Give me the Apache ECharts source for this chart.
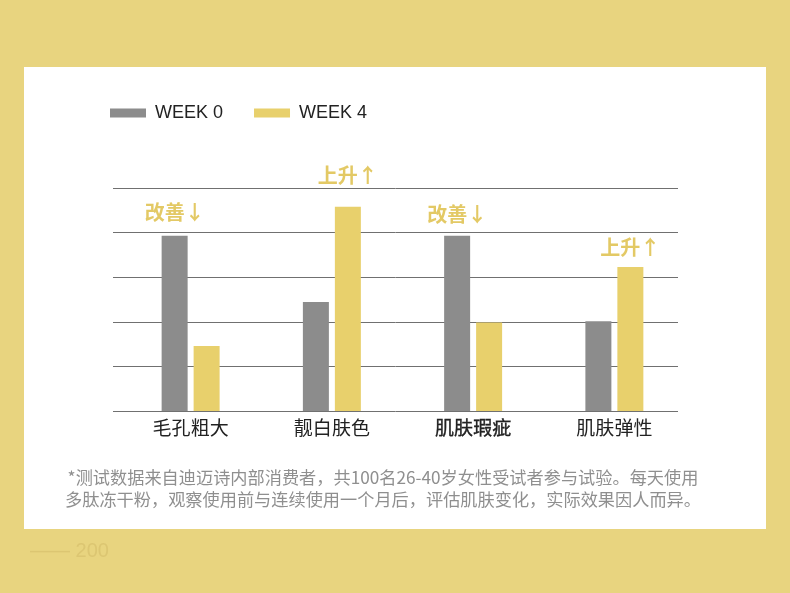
<!DOCTYPE html>
<html>
<head>
<meta charset="utf-8">
<script src="https://cdn.jsdelivr.net/npm/echarts@6/dist/echarts.min.js"></script>
<style>
  html, body { margin: 0; padding: 0; background: #e8d47f; }
  #chart { width: 790px; height: 593px; }
</style>
</head>
<body>
<div id="chart"></div>
<script>
// 四项肌肤指标：WEEK 0 vs WEEK 4
const categories = ["毛孔粗大", "靓白肤色", "肌肤瑕疵", "肌肤弹性"];
const week0 = [78.6, 48.9, 78.6, 40.3];
const week4 = [29.2, 91.6, 39.7, 64.6];
const seriesNames = ["WEEK 0", "WEEK 4"];
const notes = ["改善↓", "上升↑", "改善↓", "上升↑"];
const noteOn = [0, 1, 0, 1];          // 标注挂在哪个系列的柱子上
const yTicks = [0, 20, 40, 60, 80, 100];
const footnote = [
  "*测试数据来自迪迈诗内部消费者，共100名26-40岁女性受试者参与试验。每天使用",
  "多肽冻干粉，观察使用前与连续使用一个月后，评估肌肤变化，实际效果因人而异。"
];

const GRAY = "#8c8c8c", YELLOW = "#e8d06c", NOTE = "#e3c965";
const noteGap = [13, 21, 11, 10];

const chart = echarts.init(document.getElementById("chart"));

const barData = (vals, si) => vals.map((v, i) => {
  if (noteOn[i] !== si) return v;
  return {
    value: v,
    label: {
      show: true, position: "top", distance: noteGap[i], formatter: notes[i],
      color: NOTE, fontSize: 20, fontWeight: "bold", fontFamily: "Noto Sans CJK SC"
    }
  };
});

const yMin = yTicks[0], yMax = yTicks[yTicks.length - 1], yStep = yTicks[1] - yTicks[0];

chart.setOption({
  backgroundColor: "#e8d47f",
  animation: false,
  graphic: [
    { type: "text", left: 30, top: 541, silent: true,
      style: { text: "—— 200", fill: "#dcc672", font: "20px 'Liberation Sans'" } },
    { type: "rect", shape: { x: 24, y: 67, width: 742, height: 462 }, style: { fill: "#ffffff" }, z: -1 },
    { type: "text", silent: true,
      style: { x: 383, y: 466, text: footnote.join("\n"), textAlign: "center", lineHeight: 22,
               fill: "#8f8f8f", font: "17.2px 'Noto Sans CJK SC'" } }
  ],
  legend: {
    left: 105, top: 99, itemWidth: 36, itemHeight: 9, itemGap: 31,
    icon: "rect", data: seriesNames,
    textStyle: { color: "#222", fontSize: 18, fontFamily: "Liberation Sans", padding: [0, 0, 0, 4] }
  },
  grid: [
    { left: 113, right: 112, top: 188, bottom: 182 },
    { left: 120, right: 105, top: 188, bottom: 182 }
  ],
  xAxis: [
    { gridIndex: 0, type: "category", data: categories, show: false },
    { gridIndex: 1, type: "category", data: categories,
      axisLine: { show: false }, axisTick: { show: false },
      axisLabel: {
        margin: 7, color: "#222", fontSize: 19, fontFamily: "Noto Sans CJK SC",
        formatter: v => v === "肌肤瑕疵" ? "{b|" + v + "}" : v,
        rich: { b: { color: "#222", fontSize: 19, fontFamily: "Noto Sans CJK SC",
                     textBorderColor: "#222", textBorderWidth: 0.35 } }
      } }
  ],
  yAxis: [
    { gridIndex: 0, type: "value", min: yMin, max: yMax, interval: yStep,
      axisLabel: { show: false }, axisLine: { show: false }, axisTick: { show: false },
      splitLine: { show: true, lineStyle: { color: "#707070", width: 1 } } },
    { gridIndex: 1, type: "value", min: yMin, max: yMax, interval: yStep, show: false,
      splitLine: { show: false } }
  ],
  series: [
    { name: seriesNames[0], type: "bar", xAxisIndex: 1, yAxisIndex: 1,
      barWidth: 26, barGap: "23%", itemStyle: { color: GRAY }, data: barData(week0, 0) },
    { name: seriesNames[1], type: "bar", xAxisIndex: 1, yAxisIndex: 1,
      barWidth: 26, barGap: "23%", itemStyle: { color: YELLOW }, data: barData(week4, 1) }
  ]
});
</script>
</body>
</html>
